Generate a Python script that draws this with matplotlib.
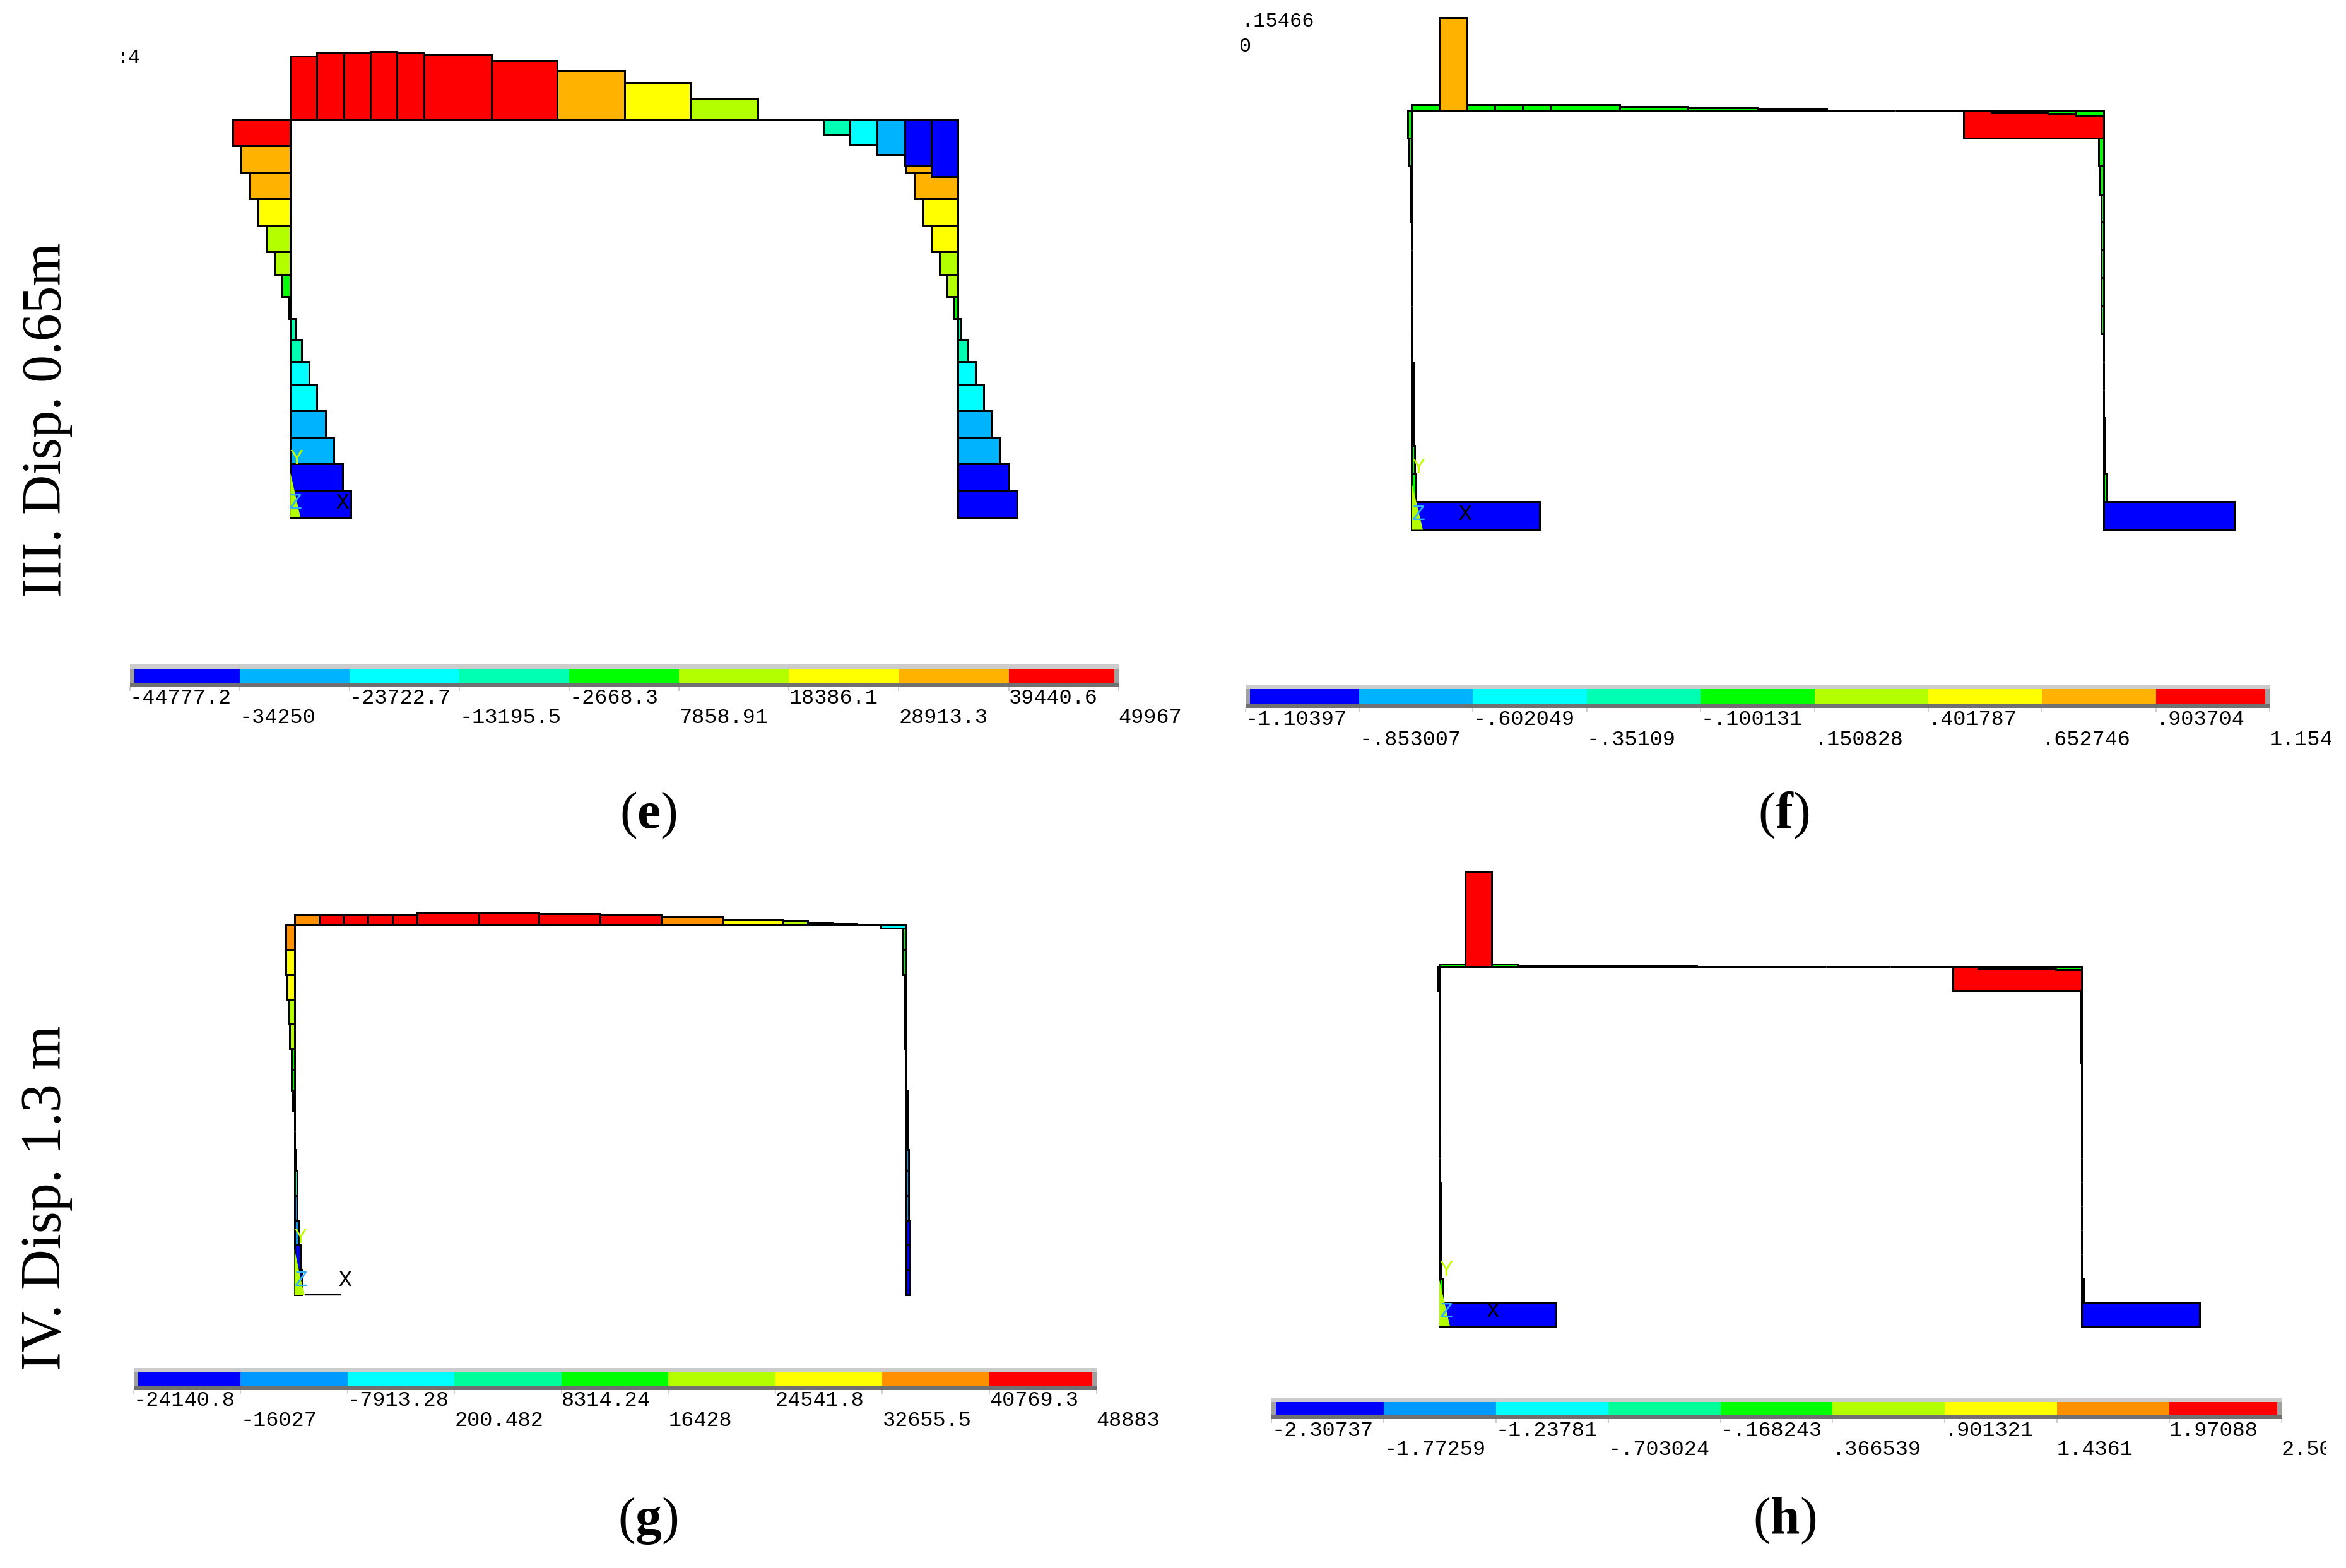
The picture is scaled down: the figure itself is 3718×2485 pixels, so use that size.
import matplotlib
matplotlib.use("Agg")
import matplotlib.pyplot as plt
import numpy as np
from matplotlib.patches import Rectangle
from matplotlib.transforms import Bbox

W, H = 3718, 2485
MONO = "Liberation Mono"
SERIF = "Liberation Serif"

# band colours, low to high; panels e/f and g/h use slightly different legends
bands_ef = ["#0000FF", "#00B3FF", "#00FFFF", "#00FFB3", "#00FF00", "#B3FF00", "#FFFF00", "#FFB300", "#FF0000"]
bands_gh = ["#0000FF", "#0099FF", "#00FFFF", "#00FF99", "#00FF00", "#B3FF00", "#FFFF00", "#FF9100", "#FF0000"]

# panel e
e_beam_edges = [0, 42.3, 84.6, 126.9, 169.1, 211.4, 318.4, 422.9, 529.8, 634.3, 740.5, 845, 887.3, 929.6, 973.5, 1015.8, 1058]
e_beam_vals = [100, 104.6, 104.6, 107, 104.6, 102, 92.9, 77.5, 57.7, 31.6, 0, -24.5, -39.8, -55.6, -73, -90.8]
e_beam_bands = [8, 8, 8, 8, 8, 8, 8, 7, 6, 5, 4, 3, 2, 1, 0, 0]
e_col_edges = [0, 42.3, 84.2, 126, 167.9, 209.7, 245.9, 281.1, 316.3, 349.5, 384.2, 419.9, 461.7, 504.1, 545.9, 588.3, 631]
e_left_vals = [91.2, 77.9, 64.7, 51.4, 38.1, 24.9, 13.3, 2.5, -8.3, -18.2, -29.9, -42.3, -55.6, -68.8, -82.9, -96.2]
e_left_bands = [8, 7, 7, 6, 5, 5, 4, 4, 3, 3, 2, 2, 1, 1, 0, 0]
e_right_vals = [95.4, 82.1, 68.8, 55.6, 42.3, 29.0, 17.4, 6.6, -5.0, -15.8, -27.4, -40.6, -53.1, -66.3, -80.4, -93.7]
e_right_bands = [7, 7, 7, 6, 6, 5, 5, 4, 3, 3, 2, 2, 1, 1, 0, 0]
e_levels = [-44777.2, -34250, -23722.7, -13195.5, -2668.3, 7858.91, 18386.1, 28913.3, 39440.6, 49967]
e_labels = ["-44777.2", "-34250", "-23722.7", "-13195.5", "-2668.3", "7858.91", "18386.1", "28913.3", "39440.6", "49967"]

# panel f
f_beam_edges = [0, 44, 88, 132, 176, 220, 330, 438, 548, 658, 767, 875, 919, 965, 1009, 1053, 1097]
f_beam_vals = [8.6, 147, 8.6, 8.6, 8.6, 8.6, 5.2, 3.4, 2.9, 0, 0, -1, -3.4, -3.4, -5.7, -9.8]
f_beam_bands = [4, 7, 4, 4, 4, 4, 4, 4, 4, 4, 4, 4, 4, 4, 4, 4]
f_col_edges = [0, 44.3, 88.8, 133, 177.3, 221.6, 265.8, 310.5, 354.7, 399.2, 443.4, 487.6, 531.9, 576.1, 620.4, 664.8]
f_left_vals = [5.7, 3.8, 1.9, 1.9, 0, 0, 0, 0, 0, -2.9, -2.9, -2.9, -4.8, -6.7, -202.8]
f_left_bands = [4, 4, 4, 4, 4, 4, 4, 4, 4, 4, 4, 4, 4, 4, 0]
f_right_vals = [222, 7.7, 5.7, 3.8, 3.8, 3.8, 3.8, 3.8, 0, 0, 0, -1.9, -1.9, -4.8, -207]
f_right_bands = [8, 4, 4, 4, 4, 4, 4, 4, 4, 4, 4, 4, 4, 4, 0]
f_levels = [-1.10397, -0.853007, -0.602049, -0.35109, -0.100131, 0.150828, 0.401787, 0.652746, 0.903704, 1.15466]
f_labels = ["-1.10397", "-.853007", "-.602049", "-.35109", "-.100131", ".150828", ".401787", ".652746", ".903704", "1.154"]

# panel g
g_beam_edges = [0, 38.9, 77.7, 116.6, 155.4, 194.3, 291.8, 387.1, 484.7, 581.5, 679.8, 774.4, 813.2, 852.1, 891, 929.8, 968.8]
g_beam_vals = [15.6, 15.6, 17.4, 17.4, 17.4, 20.1, 20.1, 17.9, 15.6, 13.4, 8.9, 7.1, 4.5, 2.7, 0, -4.5]
g_beam_bands = [7, 8, 8, 8, 8, 8, 8, 8, 8, 7, 6, 5, 4, 4, 4, 2]
g_col_edges = [0, 39.3, 78.6, 117.9, 157.1, 196.4, 229, 262, 294.6, 326.8, 355.8, 389.3, 428.6, 467.9, 507.1, 546.4, 585.7]
g_left_vals = [13.9, 13.9, 11.7, 9.5, 7.3, 5.1, 5.1, 2.9, 0, 0, -2.2, -4.4, -4.4, -6.6, -8.8, -11]
g_left_bands = [7, 6, 6, 5, 5, 4, 4, 4, 3, 3, 3, 3, 1, 1, 0, 0]
g_right_vals = [5.1, 5.1, 2.9, 2.9, 2.9, 0, 0, -2.9, -2.9, -2.9, -4.4, -4.4, -4.4, -6.6, -6.6, -6.6]
g_right_bands = [4, 4, 4, 4, 4, 4, 4, 4, 4, 4, 1, 1, 1, 0, 0, 0]
g_levels = [-24140.8, -16027, -7913.28, 200.482, 8314.24, 16428, 24541.8, 32655.5, 40769.3, 48883]
g_labels = ["-24140.8", "-16027", "-7913.28", "200.482", "8314.24", "16428", "24541.8", "32655.5", "40769.3", "48883"]

# panel h
h_beam_edges = [0, 41, 83, 124, 165, 206, 308, 408, 511, 613, 715, 813, 854, 895, 936, 977, 1018]
h_beam_vals = [4.1, 150.5, 4.1, 2.5, 2.5, 2.5, 2.5, 0, 0, 0, 0, 0, -2.5, -2.5, -2.5, -4.6]
h_beam_bands = [4, 8, 4, 4, 4, 4, 4, 4, 4, 4, 4, 4, 4, 4, 4, 4]
h_col_edges = [0, 38, 76, 114, 152, 190, 228, 266, 304, 342, 380, 418, 456, 494, 532, 570]
h_left_vals = [2.7, 0, 0, 0, 0, 0, 0, 0, 0, -2.7, -2.7, -2.7, -2.7, -6.2, -184.8]
h_left_bands = [4, 4, 4, 4, 4, 4, 4, 4, 4, 4, 4, 4, 4, 4, 0]
h_right_vals = [204.5, 1.8, 1.8, 1.8, 0, 0, 0, 0, 0, 0, 0, 0, 0, -2.7, -186.6]
h_right_bands = [8, 4, 4, 4, 4, 4, 4, 4, 4, 4, 4, 4, 4, 4, 0]
h_levels = [-2.30737, -1.77259, -1.23781, -0.703024, -0.168243, 0.366539, 0.901321, 1.4361, 1.97088, 2.50566]
h_labels = ["-2.30737", "-1.77259", "-1.23781", "-.703024", "-.168243", ".366539", ".901321", "1.4361", "1.97088", "2.50"]

row_labels = ["III. Disp. 0.65m", "IV. Disp. 1.3 m"]
panel_letters = ["e", "f", "g", "h"]


def px_to_pt(px):
    return px * 0.72


def draw_frame(fig, corner, width, beam, left, right, bands, triad, letters):
    # axes fills the whole figure, data units are reference pixels from the top-left frame corner
    cx, cy = corner
    ax = fig.add_axes([0, 0, 1, 1])
    ax.set_xlim(-cx, W - cx)
    ax.set_ylim(H - cy, -cy)
    ax.axis("off")
    lw = px_to_pt(3)

    col_edges, left_vals, left_bands = left
    right_vals, right_bands = right
    y0 = np.array(col_edges[:-1])
    dy = np.diff(col_edges)
    ax.barh(y0, -np.array(left_vals), height=dy, left=0, align="edge",
            color=[bands[b] for b in left_bands], edgecolor="black", linewidth=lw, zorder=2)
    ax.barh(y0, -np.array(right_vals), height=dy, left=width, align="edge",
            color=[bands[b] for b in right_bands], edgecolor="black", linewidth=lw, zorder=2)

    beam_edges, beam_vals, beam_bands = beam
    ax.bar(beam_edges[:-1], -np.array(beam_vals), width=np.diff(beam_edges), align="edge",
           color=[bands[b] for b in beam_bands], edgecolor="black", linewidth=lw, zorder=3)

    # global triad in the corner
    top, bottom, tw = triad
    ax.fill([0, tw, 0], [top, bottom, bottom], color="#B3FF00", lw=0, zorder=4)
    for s, (tx, ty), c in letters:
        ax.text(tx, ty, s, family=MONO, fontsize=25, color=c, ha="center", va="center", zorder=5)
    return ax


def draw_legend(fig, x0, x1, y0, y1, levels, labels, bands, rows):
    ax = fig.add_axes([x0 / W, 1 - y1 / H, (x1 - x0) / W, (y1 - y0) / H])
    ax.set_xlim(levels[0], levels[-1])
    ax.set_ylim(0, 1)
    ax.bar(levels[:-1], 0.62, bottom=0.2, width=np.diff(levels), align="edge", color=bands, zorder=1)
    side = 7 / (x1 - x0)
    ax.add_patch(Rectangle((0, 0.8), 1, 0.2, transform=ax.transAxes, color="#CCCCCC", lw=0, zorder=2))
    ax.add_patch(Rectangle((0, 0), 1, 0.2, transform=ax.transAxes, color="#707070", lw=0, zorder=2))
    ax.add_patch(Rectangle((0, 0.2), side, 0.6, transform=ax.transAxes, color="#A0A0A0", lw=0, zorder=2))
    ax.add_patch(Rectangle((1 - side, 0.2), side, 0.6, transform=ax.transAxes, color="#A0A0A0", lw=0, zorder=2))
    for s in ax.spines.values():
        s.set_visible(False)
    ax.set_yticks([])
    # first and second label rows are major and minor ticks, so each row has its own pad
    ax.set_xticks(levels[0::2])
    ax.set_xticklabels(labels[0::2], family=MONO, fontsize=px_to_pt(33.7), ha="left", va="center")
    ax.set_xticks(levels[1::2], minor=True)
    ax.set_xticklabels(labels[1::2], minor=True, family=MONO, fontsize=px_to_pt(33.7), ha="left", va="center")
    ax.tick_params(axis="x", which="major", length=px_to_pt(6), width=px_to_pt(1.5), color="#C0C0C0", pad=px_to_pt(rows[0] - 6))
    ax.tick_params(axis="x", which="minor", length=px_to_pt(6), width=px_to_pt(1.5), color="#C0C0C0", pad=px_to_pt(rows[1] - 6))
    return ax


plt.rcParams["mathtext.fontset"] = "custom"
plt.rcParams["mathtext.rm"] = SERIF
plt.rcParams["mathtext.bf"] = SERIF + ":bold"

fig = plt.figure(figsize=(W / 100, H / 100), dpi=100, facecolor="white")

base = fig.add_axes([0, 0, 1, 1])
base.set_xlim(0, W)
base.set_ylim(H, 0)
base.axis("off")

LIME = "#C0FF00"
ZBLUE = "#30B0FF"

draw_frame(fig, (460.2, 189), 1058,
           (e_beam_edges, e_beam_vals, e_beam_bands),
           (e_col_edges, e_left_vals, e_left_bands),
           (e_right_vals, e_right_bands), bands_ef, (560, 631, 16),
           [("Y", (10, 537), LIME), ("Z", (8, 607), ZBLUE), ("X", (83, 607), "black")])
draw_frame(fig, (2237, 174.5), 1097,
           (f_beam_edges, f_beam_vals, f_beam_bands),
           (f_col_edges, f_left_vals, f_left_bands),
           (f_right_vals, f_right_bands), bands_ef, (589, 665, 18),
           [("Y", (11, 566), LIME), ("Z", (11, 640), ZBLUE), ("X", (85, 640), "black")])
ax_g = draw_frame(fig, (466.7, 1466), 969,
                  (g_beam_edges, g_beam_vals, g_beam_bands),
                  (g_col_edges, g_left_vals, g_left_bands),
                  (g_right_vals, g_right_bands), bands_gh, (514, 586, 15.4),
                  [("Y", (8.8, 494), LIME), ("Z", (10.3, 562), ZBLUE), ("X", (80, 563), "black")])
ax_g.plot([17.6, 72.6], [585.7, 585.7], color="black", lw=px_to_pt(2.4), zorder=4)
draw_frame(fig, (2281, 1532), 1018,
           (h_beam_edges, h_beam_vals, h_beam_bands),
           (h_col_edges, h_left_vals, h_left_bands),
           (h_right_vals, h_right_bands), bands_ef, (496, 570, 17),
           [("Y", (10.7, 480), LIME), ("Z", (10.7, 547), ZBLUE), ("X", (84.8, 547), "black")])

draw_legend(fig, 205.7, 1772.6, 1053, 1089, e_levels, e_labels, bands_ef, (17, 48))
draw_legend(fig, 1973.7, 3597, 1084.7, 1122.3, f_levels, f_labels, bands_ef, (18, 50))
draw_legend(fig, 211.7, 1737.5, 2168, 2203, g_levels, g_labels, bands_gh, (17, 48))
ax_h = draw_legend(fig, 2015.3, 3615.5, 2215, 2249, h_levels, h_labels, bands_gh, (18, 48))

# the last label of h is cut off by the image crop
cut = ax_h.get_xticklabels(minor=True)[-1]
cut.set_clip_box(Bbox([[0, 0], [3687, H]]))
cut.set_clip_on(True)

base.text(96, 665, row_labels[0], family=SERIF, fontsize=63, rotation=90, rotation_mode="anchor",
          ha="center", va="baseline")
base.text(96, 1898, row_labels[1], family=SERIF, fontsize=64.7, rotation=90, rotation_mode="anchor",
          ha="center", va="baseline")

letter_pos = [(1027, 1292), (2827, 1291), (1027, 2410), (2828, 2409)]
for letter, (lx, ly) in zip(panel_letters, letter_pos):
    base.text(lx, ly, "$(\\mathbf{" + letter + "})$", fontsize=60, ha="center", va="center")

base.text(186, 100, ":4", family=MONO, fontsize=22, va="baseline")
base.text(1967, 42, ".15466", family=MONO, fontsize=23, va="baseline")
base.text(1963, 82, "0", family=MONO, fontsize=23, va="baseline")

fig.savefig("out.png", dpi=100, facecolor="white")
